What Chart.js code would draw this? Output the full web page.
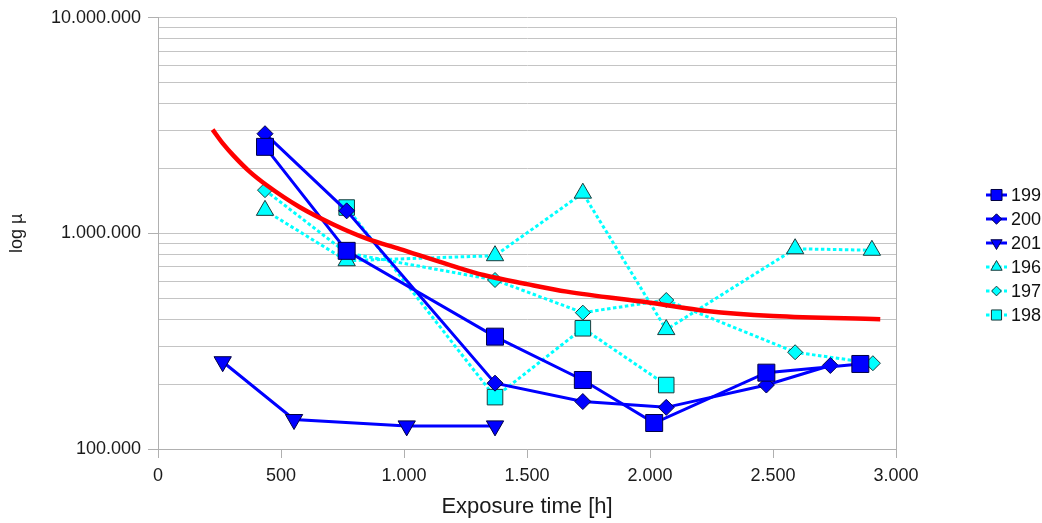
<!DOCTYPE html>
<html lang="en">
  <head>
    <meta charset="UTF-8" />
    <title>log µ vs exposure time</title>
    <style>
      body { margin: 0; background: #fff; }
      #wrap { position: relative; width: 1042px; height: 523px; }
      #legend {
        position: absolute; left: 986px; top: 183px;
        font-family: "Liberation Sans", Arial, sans-serif; font-size: 18px; color: #111;
      }
      .item { height: 24px; display: flex; align-items: center; }
      .item canvas { margin-right: 4px; }
    </style>
  </head>
  <body>
    <div id="wrap">
      <canvas id="chart" width="1042" height="523"></canvas>
      <div id="legend"></div>
    </div>

    <script src="https://cdn.jsdelivr.net/npm/chart.js@4.4.1/dist/chart.umd.min.js"></script>
    <script>
      // values (x = exposure time in h, y = µ)
      const x199 = [435, 767, 1370, 1727, 2017, 2473, 2855];
      const y199 = [2520000, 830000, 332000, 209000, 132000, 226000, 248000];
      const x200 = [435, 767, 1370, 1727, 2066, 2473, 2733];
      const y200 = [2900000, 1272000, 202000, 166000, 156000, 198000, 244000];
      const x201 = [263, 553, 1011, 1370];
      const y201 = [254000, 137000, 128000, 128000];
      const x196 = [435, 767, 1370, 1727, 2066, 2590, 2902];
      const y196 = [1279000, 747000, 788000, 1537000, 358000, 849000, 835000];
      const x197 = [435, 767, 1370, 1727, 2066, 2590, 2906];
      const y197 = [1587000, 811000, 608000, 429000, 491000, 281000, 250000];
      const x198 = [767, 1370, 1727, 2066];
      const y198 = [1318000, 174000, 363000, 198000];
      // red trend curve, read at points along it
      const xTrend = [222, 265, 306, 370, 442, 577, 713, 849, 984, 1187, 1323, 1500, 1662, 2001, 2231, 2501, 2936];
      const yTrend = [3030000, 2600000, 2300000, 1945000, 1672000, 1322000, 1100000, 945000, 845000, 713000,
        641000, 582000, 537000, 477000, 437000, 414000, 400000];

      const xTicks = [0, 500, 1000, 1500, 2000, 2500, 3000];
      const yTicks = [100000, 200000, 300000, 400000, 500000, 600000, 700000, 800000, 900000,
        1000000, 2000000, 3000000, 4000000, 5000000, 6000000, 7000000, 8000000, 9000000, 10000000];
      const yLabels = [100000, 1000000, 10000000];

      const BLUE = "#0000ff";
      const CYAN = "#00ffff";
      const GRID = "#c4c4c4";
      const AXIS = "#b0b0b0";
      const FONT = "'Liberation Sans', Arial, sans-serif";

      // punkt als tausendertrenner
      const fmt = (v) => String(Math.round(v)).replace(/\B(?=(\d{3})+(?!\d))/g, ".");
      const pts = (xs, ys) => xs.map((x, i) => ({ x: x, y: ys[i] }));

      const series = [
        { label: "199", xs: x199, ys: y199, color: BLUE, edge: "#000044", shape: "rect", r: 12, rot: 0, dotted: false },
        { label: "200", xs: x200, ys: y200, color: BLUE, edge: "#000044", shape: "rectRot", r: 8, rot: 0, dotted: false },
        { label: "201", xs: x201, ys: y201, color: BLUE, edge: "#000044", shape: "triangle", r: 10, rot: 180, dotted: false },
        { label: "196", xs: x196, ys: y196, color: CYAN, edge: "#1b3b3b", shape: "triangle", r: 10, rot: 0, dotted: true },
        { label: "197", xs: x197, ys: y197, color: CYAN, edge: "#1b3b3b", shape: "rectRot", r: 7.5, rot: 0, dotted: true },
        { label: "198", xs: x198, ys: y198, color: CYAN, edge: "#1b3b3b", shape: "rect", r: 11, rot: 0, dotted: true },
      ];

      const datasets = series.map((s) => ({
        label: s.label,
        data: pts(s.xs, s.ys),
        borderColor: s.color,
        borderWidth: 3,
        borderDash: s.dotted ? [3.5, 2.5] : [],
        pointStyle: s.shape,
        pointRadius: s.r,
        pointRotation: s.rot,
        pointBackgroundColor: s.color,
        pointBorderColor: s.edge,
        pointBorderWidth: 1,
        tension: 0,
      }));

      datasets.push({
        label: "trend",
        data: pts(xTrend, yTrend),
        borderColor: "#ff0000",
        borderWidth: 4.5,
        pointRadius: 0,
        cubicInterpolationMode: "monotone",
        order: -1,
      });

      // rahmen rechts
      const frame = {
        id: "frame",
        beforeDatasetsDraw(chart) {
          const { ctx, chartArea: a } = chart;
          ctx.save();
          ctx.strokeStyle = AXIS;
          ctx.lineWidth = 1;
          ctx.beginPath();
          ctx.moveTo(Math.round(a.right) + 0.5, a.top);
          ctx.lineTo(Math.round(a.right) + 0.5, a.bottom);
          ctx.stroke();
          ctx.restore();
        },
      };

      const chart = new Chart(document.getElementById("chart"), {
        type: "line",
        data: { datasets: datasets },
        plugins: [frame],
        options: {
          responsive: false,
          animation: false,
          devicePixelRatio: 1,
          events: [],
          layout: { padding: { left: 0, right: 146, top: 17, bottom: 0 } },
          plugins: { legend: { display: false }, tooltip: { enabled: false } },
          scales: {
            x: {
              type: "linear",
              min: 0,
              max: 3000,
              afterBuildTicks: (s) => { s.ticks = xTicks.map((v) => ({ value: v })); },
              afterFit: (s) => { s.height = 74; },
              ticks: { callback: (v) => fmt(v), padding: 7, maxRotation: 0, autoSkip: false,
                color: "#1a1a1a", font: { family: FONT, size: 18 } },
              grid: { drawOnChartArea: false, tickLength: 9, color: AXIS },
              border: { color: AXIS },
              title: { display: true, text: "Exposure time [h]", color: "#1a1a1a",
                font: { family: FONT, size: 22 }, padding: { top: 0, bottom: 3 } },
            },
            y: {
              type: "logarithmic",
              min: 100000,
              max: 10000000,
              afterBuildTicks: (s) => { s.ticks = yTicks.map((v) => ({ value: v })); },
              afterFit: (s) => { s.width = 158; },
              ticks: { callback: (v) => (yLabels.includes(v) ? fmt(v) : ""), padding: 7, autoSkip: false,
                color: "#1a1a1a", font: { family: FONT, size: 18 } },
              grid: {
                color: GRID,
                tickLength: 10,
                tickColor: (c) => (c.tick && yLabels.includes(c.tick.value) ? AXIS : "rgba(0,0,0,0)"),
              },
              border: { color: AXIS },
              title: { display: true, text: "log µ", color: "#1a1a1a",
                font: { family: FONT, size: 18 }, padding: { top: 6, bottom: 0 } },
            },
          },
        },
      });

      // legende mit linie + marker
      const legend = document.getElementById("legend");
      series.forEach((s) => {
        const row = document.createElement("div");
        row.className = "item";
        const c = document.createElement("canvas");
        c.width = 21;
        c.height = 18;
        const g = c.getContext("2d");
        g.strokeStyle = s.color;
        g.lineWidth = 3;
        g.setLineDash(s.dotted ? [3.5, 2.5] : []);
        g.beginPath();
        g.moveTo(0, 9);
        g.lineTo(21, 9);
        g.stroke();
        g.setLineDash([]);
        g.fillStyle = s.color;
        g.strokeStyle = s.edge;
        g.lineWidth = 1;
        Chart.helpers.drawPoint(g, {
          pointStyle: s.shape,
          radius: s.r * 0.65,
          rotation: s.rot,
          borderWidth: 1,
        }, 10.5, 9);
        row.appendChild(c);
        const t = document.createElement("span");
        t.textContent = s.label;
        row.appendChild(t);
        legend.appendChild(row);
      });
    </script>
  </body>
</html>
